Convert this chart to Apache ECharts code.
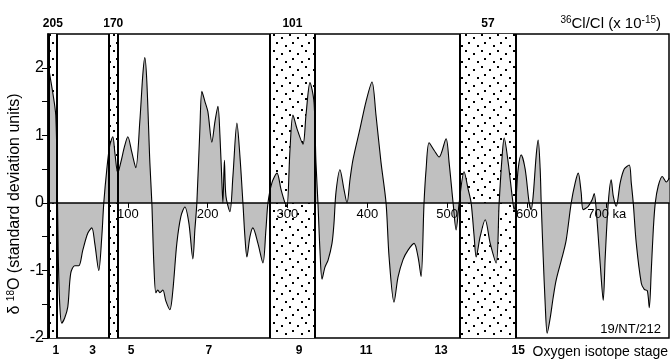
<!DOCTYPE html>
<html>
<head>
<meta charset="utf-8">
<script src="https://cdn.jsdelivr.net/npm/echarts@6/dist/echarts.min.js"></script>
<style>
  html, body { margin: 0; padding: 0; background: #fff; }
  #chart { width: 672px; height: 360px; }
</style>
</head>
<body>
<div id="chart"></div>
<script>
// age (ka) and standardised d18O
var ages = [1, 2.2, 6, 9.7, 11.6, 12.9, 14.7, 17.2, 21, 24.8, 28.5, 33.5, 38.6, 43.6, 49.8, 54.9, 58.6, 63.6, 67.4, 69.9,
  73.7, 77.4, 81.2, 83.7, 87.5, 91.2, 96.2, 100, 105, 110, 115, 118.8, 121.3, 123.8, 127.6, 130.1, 132.6, 135.1, 137.6, 140.1,
  143.9, 147.6, 152.7, 156.4, 161.4, 166.5, 171.5, 176.5, 181.5, 184, 186.5, 190.3, 192.8, 196.6, 200.3, 205.3, 209.1, 212.9, 215.4, 217.9,
  219.1, 221, 222.9, 227.9, 231.7, 236.7, 240.4, 244.2, 246.7, 249.2, 253, 256.7, 263, 269.3, 273, 275.6, 280.6, 286.9, 291.9, 296.9,
  299.4, 303.2, 306.9, 311.9, 319.4, 323.2, 328.2, 333.2, 335.7, 338.2, 340.7, 343.3, 347, 350.8, 355.8, 358.3, 360.8, 365.8, 370.8, 374.6,
  378.4, 382.1, 390.9, 398.4, 405.9, 410.9, 417.2, 423.5, 427.3, 433.5, 438.5, 444.8, 451.1, 458.6, 463.6, 467.4, 471.1, 473.7, 477.4, 483.7,
  490, 498.7, 502.5, 507.5, 511.3, 515.1, 521.3, 526.4, 530.1, 533.9, 536.4, 541.4, 547.7, 554, 561.5, 565.2, 569, 571.5, 576.5, 581.5,
  584, 586.5, 589, 592.8, 597.8, 602.8, 605.3, 607.8, 611.6, 614.1, 616.6, 617.9, 620.4, 622.9, 625.4, 629.2, 632.9, 636.7, 644.2, 649.2,
  655.5, 660.5, 664.3, 668, 670.5, 676.8, 681.8, 684.3, 686.8, 691.8, 695.6, 698.1, 701.9, 705.6, 708.2, 711.9, 716.9, 721.9, 728.2, 730.7,
  733.2, 737, 743.3, 747, 750.8, 753.3, 755.8, 758.3, 760.8, 764.5, 769.6, 774.6, 778.3];
var d18O = [2.0, 1.9, 1.63, 1.3, 0.3, -0.8, -1.5, -1.78, -1.7, -1.54, -1.04, -0.93, -0.93, -0.7, -0.45, -0.37, -0.6, -1.0, -0.5, 0,
  0.5, 0.85, 0.98, 0.75, 0.44, 0.6, 0.85, 0.98, 0.75, 0.52, 1.2, 1.9, 2.15, 1.8, 0.6, 0, -0.9, -1.33, -1.29, -1.33,
  -1.29, -1.45, -1.58, -1.3, -0.6, -0.2, -0.06, -0.3, -0.83, -0.4, 0, 1.1, 1.65, 1.5, 1.35, 0.9, 1.2, 1.43, 1.0, 0.3,
  0, 0.63, 0.1, -0.13, 0.4, 1.18, 0.7, 0, -0.5, -0.8, -0.5, -0.37, -0.6, -0.89, -0.4, 0, 0.3, 0.44, 0.2, 0,
  -0.05, 0.8, 1.3, 1.1, 0.87, 1.3, 1.78, 1.5, 0.6, 0, -0.7, -1.13, -0.95, -0.85, -0.6, -0.3, 0.16, 0.49, 0.2, 0,
  0.35, 0.64, 1.1, 1.5, 1.79, 1.3, 0.6, 0, -0.8, -1.47, -1.1, -0.84, -0.7, -0.6, -0.8, -1.09, 0, 0.5, 0.89, 0.78,
  0.68, 0.95, 0.6, 0, -0.4, 0, 0.46, 0.2, 0, -0.5, -0.8, -0.5, -0.25, -0.6, -0.89, 0, 0.7, 0.96, 0.6, 0.1,
  -0.1, 0.1, 0.5, 0.71, 0.5, 0, -0.1, 0.1, 0.7, 0.93, 0.5, 0, -0.8, -1.5, -1.93, -1.7, -1.4, -1.14, -0.8, -0.55,
  0, 0.3, 0.44, 0.15, -0.1, -0.05, 0.05, 0.14, -0.1, -0.9, -1.44, -0.8, 0, 0.34, 0.1, -0.05, 0.3, 0.5, 0.56, 0.3,
  0, -0.6, -1.19, -1.28, -1.3, -1.55, -1.0, -0.4, 0, 0.25, 0.39, 0.31, 0.37];

// dotted bands with their 36Cl/Cl values
var bandStart = [1, 76, 278, 516];
var bandEnd = [11, 87.5, 334.5, 586.5];
var bandLabels = ['205', '170', '101', '57'];

// oxygen isotope stages
var stageAges = [9.7, 56, 104, 201.6, 314.5, 398.4, 492.5, 589];
var stageLabels = ['1', '3', '5', '7', '9', '11', '13', '15'];

var ageTicks = [100, 200, 300, 400, 500, 600, 700];
var yLabels = [-2, -1, 0, 1, 2];
var yTicks = [-2, -1.5, -1, -0.5, 0, 0.5, 1, 1.5, 2];

var FONT = 'Liberation Sans';
var Y_MIN = -2, Y_MAX = 2.5;
var GRID = { left: 48, right: 3, top: 34, bottom: 22 };
// lift the age axis from the bottom edge up to the zero line
var plotH = 360 - GRID.top - GRID.bottom;
var zeroOffset = -plotH * (0 - Y_MIN) / (Y_MAX - Y_MIN);

function dotPattern() {
  var c = document.createElement('canvas');
  c.width = 16; c.height = 16;
  var ctx = c.getContext('2d');
  ctx.fillStyle = '#fff';
  ctx.fillRect(0, 0, 16, 16);
  ctx.fillStyle = '#000';
  [[1, 2], [9, 5], [4, 10], [13, 13]].forEach(function (p) {
    ctx.fillRect(p[0], p[1], 2, 2);
  });
  return c;
}

var chart = echarts.init(document.getElementById('chart'));
var curve = ages.map(function (a, i) { return [a, d18O[i]]; });

chart.setOption({
  animation: false,
  grid: {
    left: GRID.left, right: GRID.right, top: GRID.top, bottom: GRID.bottom,
    show: true, borderColor: '#000', borderWidth: 1.5, backgroundColor: 'transparent'
  },
  xAxis: [{
    type: 'value',
    min: 0,
    max: 778,
    position: 'bottom',
    offset: zeroOffset,
    z: 10,
    axisLine: { onZero: false, lineStyle: { color: '#000', width: 1.5 } },
    axisTick: { customValues: ageTicks, length: 5, lineStyle: { color: '#000', width: 1 } },
    axisLabel: {
      customValues: ageTicks,
      margin: 5,
      color: '#000',
      fontFamily: FONT,
      fontSize: 13,
      formatter: function (v) { return v === 700 ? '700 ka' : String(v); }
    },
    splitLine: { show: false }
  }, {
    type: 'value',
    min: 0,
    max: 778,
    position: 'bottom',
    axisLine: { show: false, onZero: false },
    axisTick: { show: false },
    axisLabel: {
      customValues: stageAges,
      margin: 7,
      color: '#000',
      fontFamily: FONT,
      fontSize: 12,
      fontWeight: 'bold',
      formatter: function (v) { return stageLabels[stageAges.indexOf(v)]; }
    },
    splitLine: { show: false }
  }],
  yAxis: {
    type: 'value',
    min: Y_MIN,
    max: Y_MAX,
    axisLine: { show: true, lineStyle: { color: '#000', width: 1.5 } },
    axisTick: { customValues: yTicks, length: 6, lineStyle: { color: '#000', width: 1 } },
    axisLabel: {
      customValues: yLabels,
      margin: 4,
      color: '#000',
      fontFamily: FONT,
      fontSize: 16
    },
    splitLine: { show: false }
  },
  series: [{
    type: 'line',
    xAxisIndex: 0,
    z: 1,
    data: [],
    markArea: {
      silent: true,
      itemStyle: { color: { image: dotPattern(), repeat: 'repeat' }, borderWidth: 0 },
      label: {
        show: true,
        position: 'top',
        distance: 4,
        color: '#000',
        fontFamily: FONT,
        fontSize: 12,
        fontWeight: 'bold'
      },
      data: bandStart.map(function (s, i) {
        return [{ xAxis: s, name: bandLabels[i] }, { xAxis: bandEnd[i] }];
      })
    }
  }, {
    type: 'line',
    xAxisIndex: 0,
    z: 2,
    data: curve,
    showSymbol: false,
    smooth: 0.3,
    lineStyle: { color: '#000', width: 1.1 },
    areaStyle: { color: '#c0c0c0', opacity: 1 }
  }, {
    type: 'line',
    xAxisIndex: 0,
    z: 3,
    data: [],
    markLine: {
      silent: true,
      symbol: 'none',
      label: { show: false },
      lineStyle: { color: '#000', width: 2, type: 'solid' },
      data: bandStart.concat(bandEnd).map(function (v) { return { xAxis: v }; })
    }
  }],
  graphic: [{
    type: 'text',
    x: 15,
    y: 204,
    rotation: Math.PI / 2,
    style: {
      text: 'δ {sup|18}O (standard deviation units)',
      fill: '#000',
      font: '16px ' + FONT,
      align: 'center',
      verticalAlign: 'middle',
      rich: { sup: { fontSize: 10, fontFamily: FONT, padding: [0, 0, 8, 0] } }
    }
  }, {
    type: 'text',
    x: 661,
    y: 24,
    style: {
      text: '{sup|36}Cl/Cl (x 10{sup|-15})',
      fill: '#000',
      font: '15px ' + FONT,
      align: 'right',
      verticalAlign: 'middle',
      rich: { sup: { fontSize: 10, fontFamily: FONT, padding: [0, 0, 8, 0] } }
    }
  }, {
    type: 'text',
    x: 661,
    y: 329,
    style: { text: '19/NT/212', fill: '#000', font: '13px ' + FONT, align: 'right', verticalAlign: 'middle' }
  }, {
    type: 'text',
    x: 668,
    y: 352,
    style: { text: 'Oxygen isotope stage', fill: '#000', font: '14px ' + FONT, align: 'right', verticalAlign: 'middle' }
  }]
});
</script>
</body>
</html>
